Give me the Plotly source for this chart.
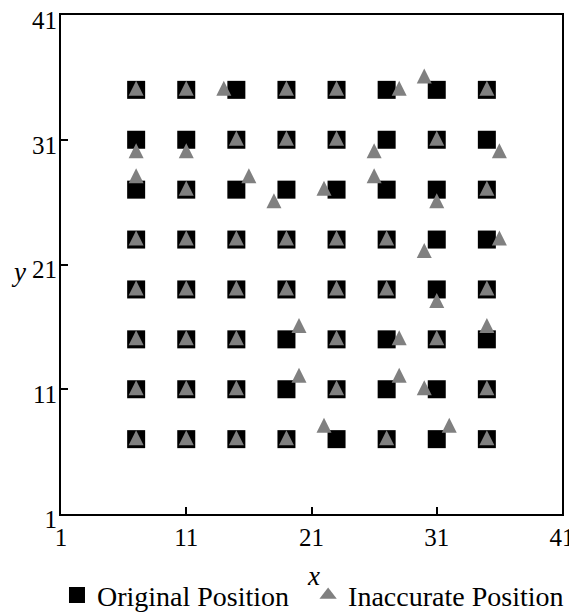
import plotly.graph_objects as go

# Original positions (8 x 8 grid), listed row by row from top to bottom
orig_x = [7, 11, 15, 19, 23, 27, 31, 35,
          7, 11, 15, 19, 23, 27, 31, 35,
          7, 11, 15, 19, 23, 27, 31, 35,
          7, 11, 15, 19, 23, 27, 31, 35,
          7, 11, 15, 19, 23, 27, 31, 35,
          7, 11, 15, 19, 23, 27, 31, 35,
          7, 11, 15, 19, 23, 27, 31, 35,
          7, 11, 15, 19, 23, 27, 31, 35]
orig_y = [35, 35, 35, 35, 35, 35, 35, 35,
          31, 31, 31, 31, 31, 31, 31, 31,
          27, 27, 27, 27, 27, 27, 27, 27,
          23, 23, 23, 23, 23, 23, 23, 23,
          19, 19, 19, 19, 19, 19, 19, 19,
          15, 15, 15, 15, 15, 15, 15, 15,
          11, 11, 11, 11, 11, 11, 11, 11,
          7, 7, 7, 7, 7, 7, 7, 7]

# Inaccurate positions
inacc_x = [7, 11, 14, 19, 23, 28, 30, 35,
           7, 11, 15, 19, 23, 26, 31, 36,
           7, 11, 16, 18, 22, 26, 31, 35,
           7, 11, 15, 19, 23, 27, 30, 36,
           7, 11, 15, 19, 23, 27, 31, 35,
           7, 11, 15, 20, 23, 28, 31, 35,
           7, 11, 15, 20, 23, 28, 30, 35,
           7, 11, 15, 19, 22, 27, 32, 35]
inacc_y = [35, 35, 35, 35, 35, 35, 36, 35,
           30, 30, 31, 31, 31, 30, 31, 30,
           28, 27, 28, 26, 27, 28, 26, 27,
           23, 23, 23, 23, 23, 23, 22, 23,
           19, 19, 19, 19, 19, 19, 18, 19,
           15, 15, 15, 16, 15, 15, 15, 16,
           11, 11, 11, 12, 11, 12, 11, 11,
           7, 7, 7, 7, 8, 7, 8, 7]

tick_vals = [1, 11, 21, 31, 41]
tick_text = ["1", "11", "21", "31", "41"]

FONT = "Liberation Serif, Times New Roman, serif"
AX_MIN, AX_MAX = 1, 41
TRI_SHIFT = 0.72  # visual centering of the arrow-style triangle marker
GRAY = "rgb(128,128,128)"

fig = go.Figure()
fig.add_trace(go.Scatter(
    x=orig_x, y=orig_y, mode="markers", name="Original Position\u00a0\u00a0",
    marker=dict(symbol="square", size=18, color="black", line=dict(width=0)),
    xaxis="x", yaxis="y",
))
fig.add_trace(go.Scatter(
    x=inacc_x, y=inacc_y, mode="markers", name="Inaccurate Position",
    marker=dict(symbol="arrow-up", size=15, color=GRAY, line=dict(width=0)),
    xaxis="x", yaxis="y2", showlegend=False,
))
# legend entry for the triangles (centred triangle symbol)
fig.add_trace(go.Scatter(
    x=[None], y=[None], mode="markers", name="Inaccurate Position",
    marker=dict(symbol="triangle-up", size=15, color=GRAY, line=dict(width=0)),
    xaxis="x", yaxis="y",
))

axis_common = dict(
    showgrid=False, zeroline=False,
    showline=True, linecolor="black", linewidth=2, mirror=True,
    ticks="inside", ticklen=7, tickwidth=2, tickcolor="black",
    tickmode="array", tickvals=tick_vals, ticktext=tick_text,
    tickfont=dict(family=FONT, size=25, color="black"),
    ticklabeloverflow="allow",
)

# The page body adds an 8px offset, so the figure is 8px smaller and the
# left/top margins are reduced accordingly.
fig.update_layout(
    width=569, height=607,
    margin=dict(l=53, r=15, t=7, b=101, autoexpand=False),
    paper_bgcolor="white", plot_bgcolor="white",
    xaxis=dict(range=[AX_MIN, AX_MAX], **axis_common),
    yaxis=dict(range=[AX_MIN, AX_MAX], ticklabelstandoff=-3, ticklabelshift=5,
               **axis_common),
    yaxis2=dict(range=[AX_MIN - TRI_SHIFT, AX_MAX - TRI_SHIFT], overlaying="y",
                visible=False, showgrid=False, zeroline=False),
    showlegend=True,
    legend=dict(
        orientation="h", x=-0.008, xanchor="left", y=-0.163, yanchor="middle",
        font=dict(family=FONT, size=28, color="black"),
        bgcolor="rgba(0,0,0,0)", itemsizing="trace",
        tracegroupgap=0,
    ),
    annotations=[
        dict(text="<i>x</i>", xref="paper", yref="paper", x=0.503, y=-0.125,
             showarrow=False, font=dict(family=FONT, size=27, color="black"),
             xanchor="center", yanchor="middle"),
        dict(text="<i>y</i>", xref="paper", yref="paper", x=-0.085, y=0.485,
             showarrow=False, font=dict(family=FONT, size=27, color="black"),
             xanchor="center", yanchor="middle"),
    ],
)

fig.write_html("out.html")
